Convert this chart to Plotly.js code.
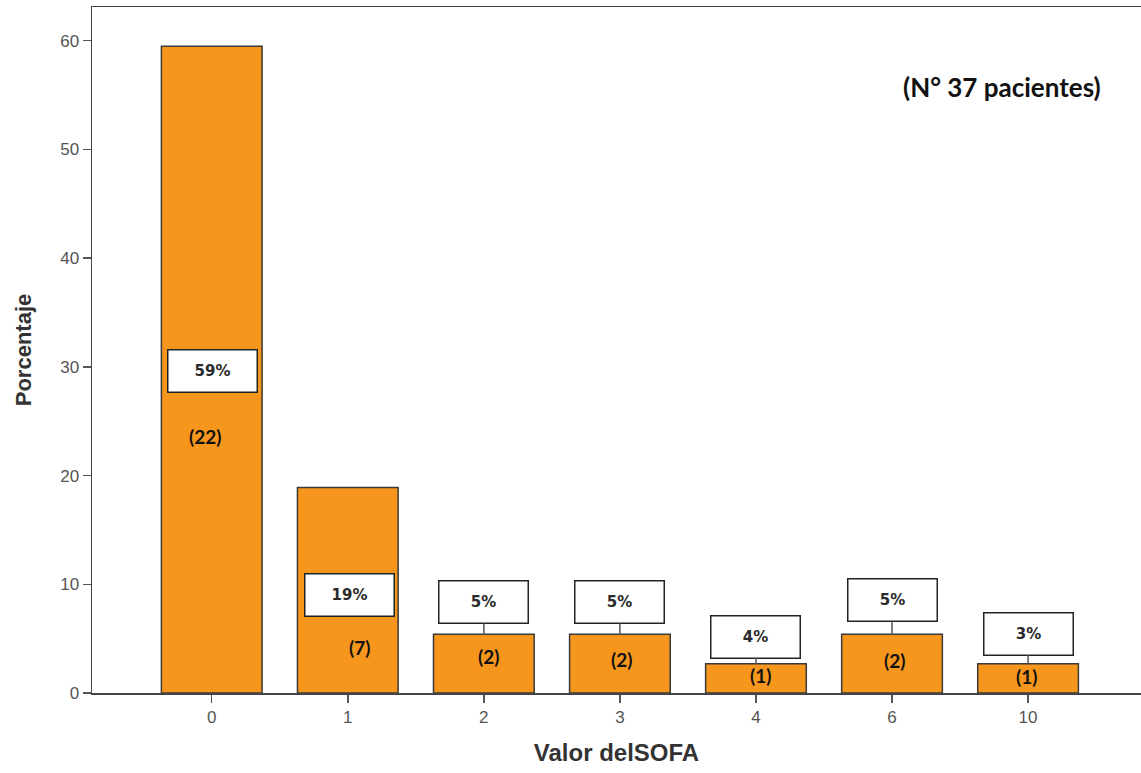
<!DOCTYPE html>
<html>
<head>
<meta charset="utf-8">
<script src="https://cdn.plot.ly/plotly-3.0.1.min.js"></script>
<style>
html,body{margin:0;padding:0;background:#fff;}
#chart{width:1141px;height:773px;}
</style>
</head>
<body>
<div id="chart"></div>
<script>
// Data
const categories = ["0", "1", "2", "3", "4", "6", "10"];
const percentages = [59.5, 18.9, 5.4, 5.4, 2.7, 5.4, 2.7];
const percentLabels = ["59%", "19%", "5%", "5%", "4%", "5%", "3%"];
const countLabels = ["(22)", "(7)", "(2)", "(2)", "(1)", "(2)", "(1)"];
const noteText = "(N° 37 pacientes)";
const xTitle = "Valor delSOFA";
const yTitle = "Porcentaje";

// Label placement (layout only)
const pctInside = [29.6, 9.0, null, null, null, null, null];   // y of box when inside bar
const pctAbove = [0, 0, -32, -32, -27, -34, -30];              // px offset above bar top
const pctShift = [1, 2, 0, 0, 0, 0, 0];
const countY = [23.6, 4.2, 3.4, 3.1, 1.65, 2.95, 1.5];
const countShift = [-7, 12, 5, 2, 5, 2, -2];

const annotations = [];
categories.forEach((c, i) => {
  const boxStyle = {
    text: percentLabels[i],
    font: {family: "DejaVu Sans", size: 15, color: "#2a2a2a", weight: "bold"},
    bgcolor: "#ffffff",
    bordercolor: "#222222",
    borderwidth: 1.5,
    borderpad: 0,
    width: 88,
    height: 41,
    xref: "x", yref: "y"
  };
  if (pctInside[i] !== null) {
    annotations.push(Object.assign({}, boxStyle, {x: i, y: pctInside[i], xshift: pctShift[i], showarrow: false}));
  } else {
    annotations.push(Object.assign({}, boxStyle, {
      x: i, y: percentages[i], showarrow: true, arrowhead: 0, arrowwidth: 1.5,
      arrowcolor: "#555555", ax: pctShift[i], ay: pctAbove[i], standoff: 0
    }));
  }
  annotations.push({
    text: countLabels[i], x: i, y: countY[i], xref: "x", yref: "y",
    xshift: countShift[i], showarrow: false,
    font: {family: "Lato", size: 19, color: "#111111", weight: "bold"}
  });
});
annotations.push({
  text: noteText, xref: "paper", yref: "paper", x: 0.8675, y: 0.883,
  xanchor: "center", yanchor: "middle",
  showarrow: false, font: {family: "Lato", size: 26, color: "#111111", weight: "bold"}
});

const trace = {
  type: "bar",
  x: categories,
  y: percentages,
  width: 0.74,
  marker: {color: "#F7961D", line: {color: "#3a3a3a", width: 1.5}},
  hoverinfo: "x+y"
};

const layout = {
  width: 1141, height: 773,
  margin: {l: 92, r: 0, t: 7, b: 80},
  paper_bgcolor: "#ffffff", plot_bgcolor: "#ffffff",
  showlegend: false,
  xaxis: {
    type: "category",
    range: [-0.88, 6.83],
    showline: true, mirror: true, linecolor: "#444444", linewidth: 1.5,
    ticks: "outside", ticklen: 8, tickwidth: 1.5, tickcolor: "#555555",
    tickfont: {family: "Liberation Sans", size: 17, color: "#555555"},
    showgrid: false, zeroline: false,
    title: {text: xTitle, font: {family: "Liberation Sans", size: 24, color: "#333333", weight: "bold"}, standoff: 18},
    automargin: false
  },
  yaxis: {
    range: [0, 63.1],
    tickvals: [0, 10, 20, 30, 40, 50, 60],
    showline: true, linecolor: "#444444", linewidth: 1.5,
    ticks: "outside", ticklen: 8, tickwidth: 1.5, tickcolor: "#555555",
    tickfont: {family: "Liberation Sans", size: 17, color: "#555555"},
    showgrid: false, zeroline: false,
    title: {text: yTitle, font: {family: "Liberation Sans", size: 22, color: "#333333", weight: "bold"}, standoff: 22},
    automargin: false
  },
  annotations: annotations
};

Plotly.newPlot("chart", [trace], layout, {displayModeBar: false, staticPlot: true});
</script>
</body>
</html>
